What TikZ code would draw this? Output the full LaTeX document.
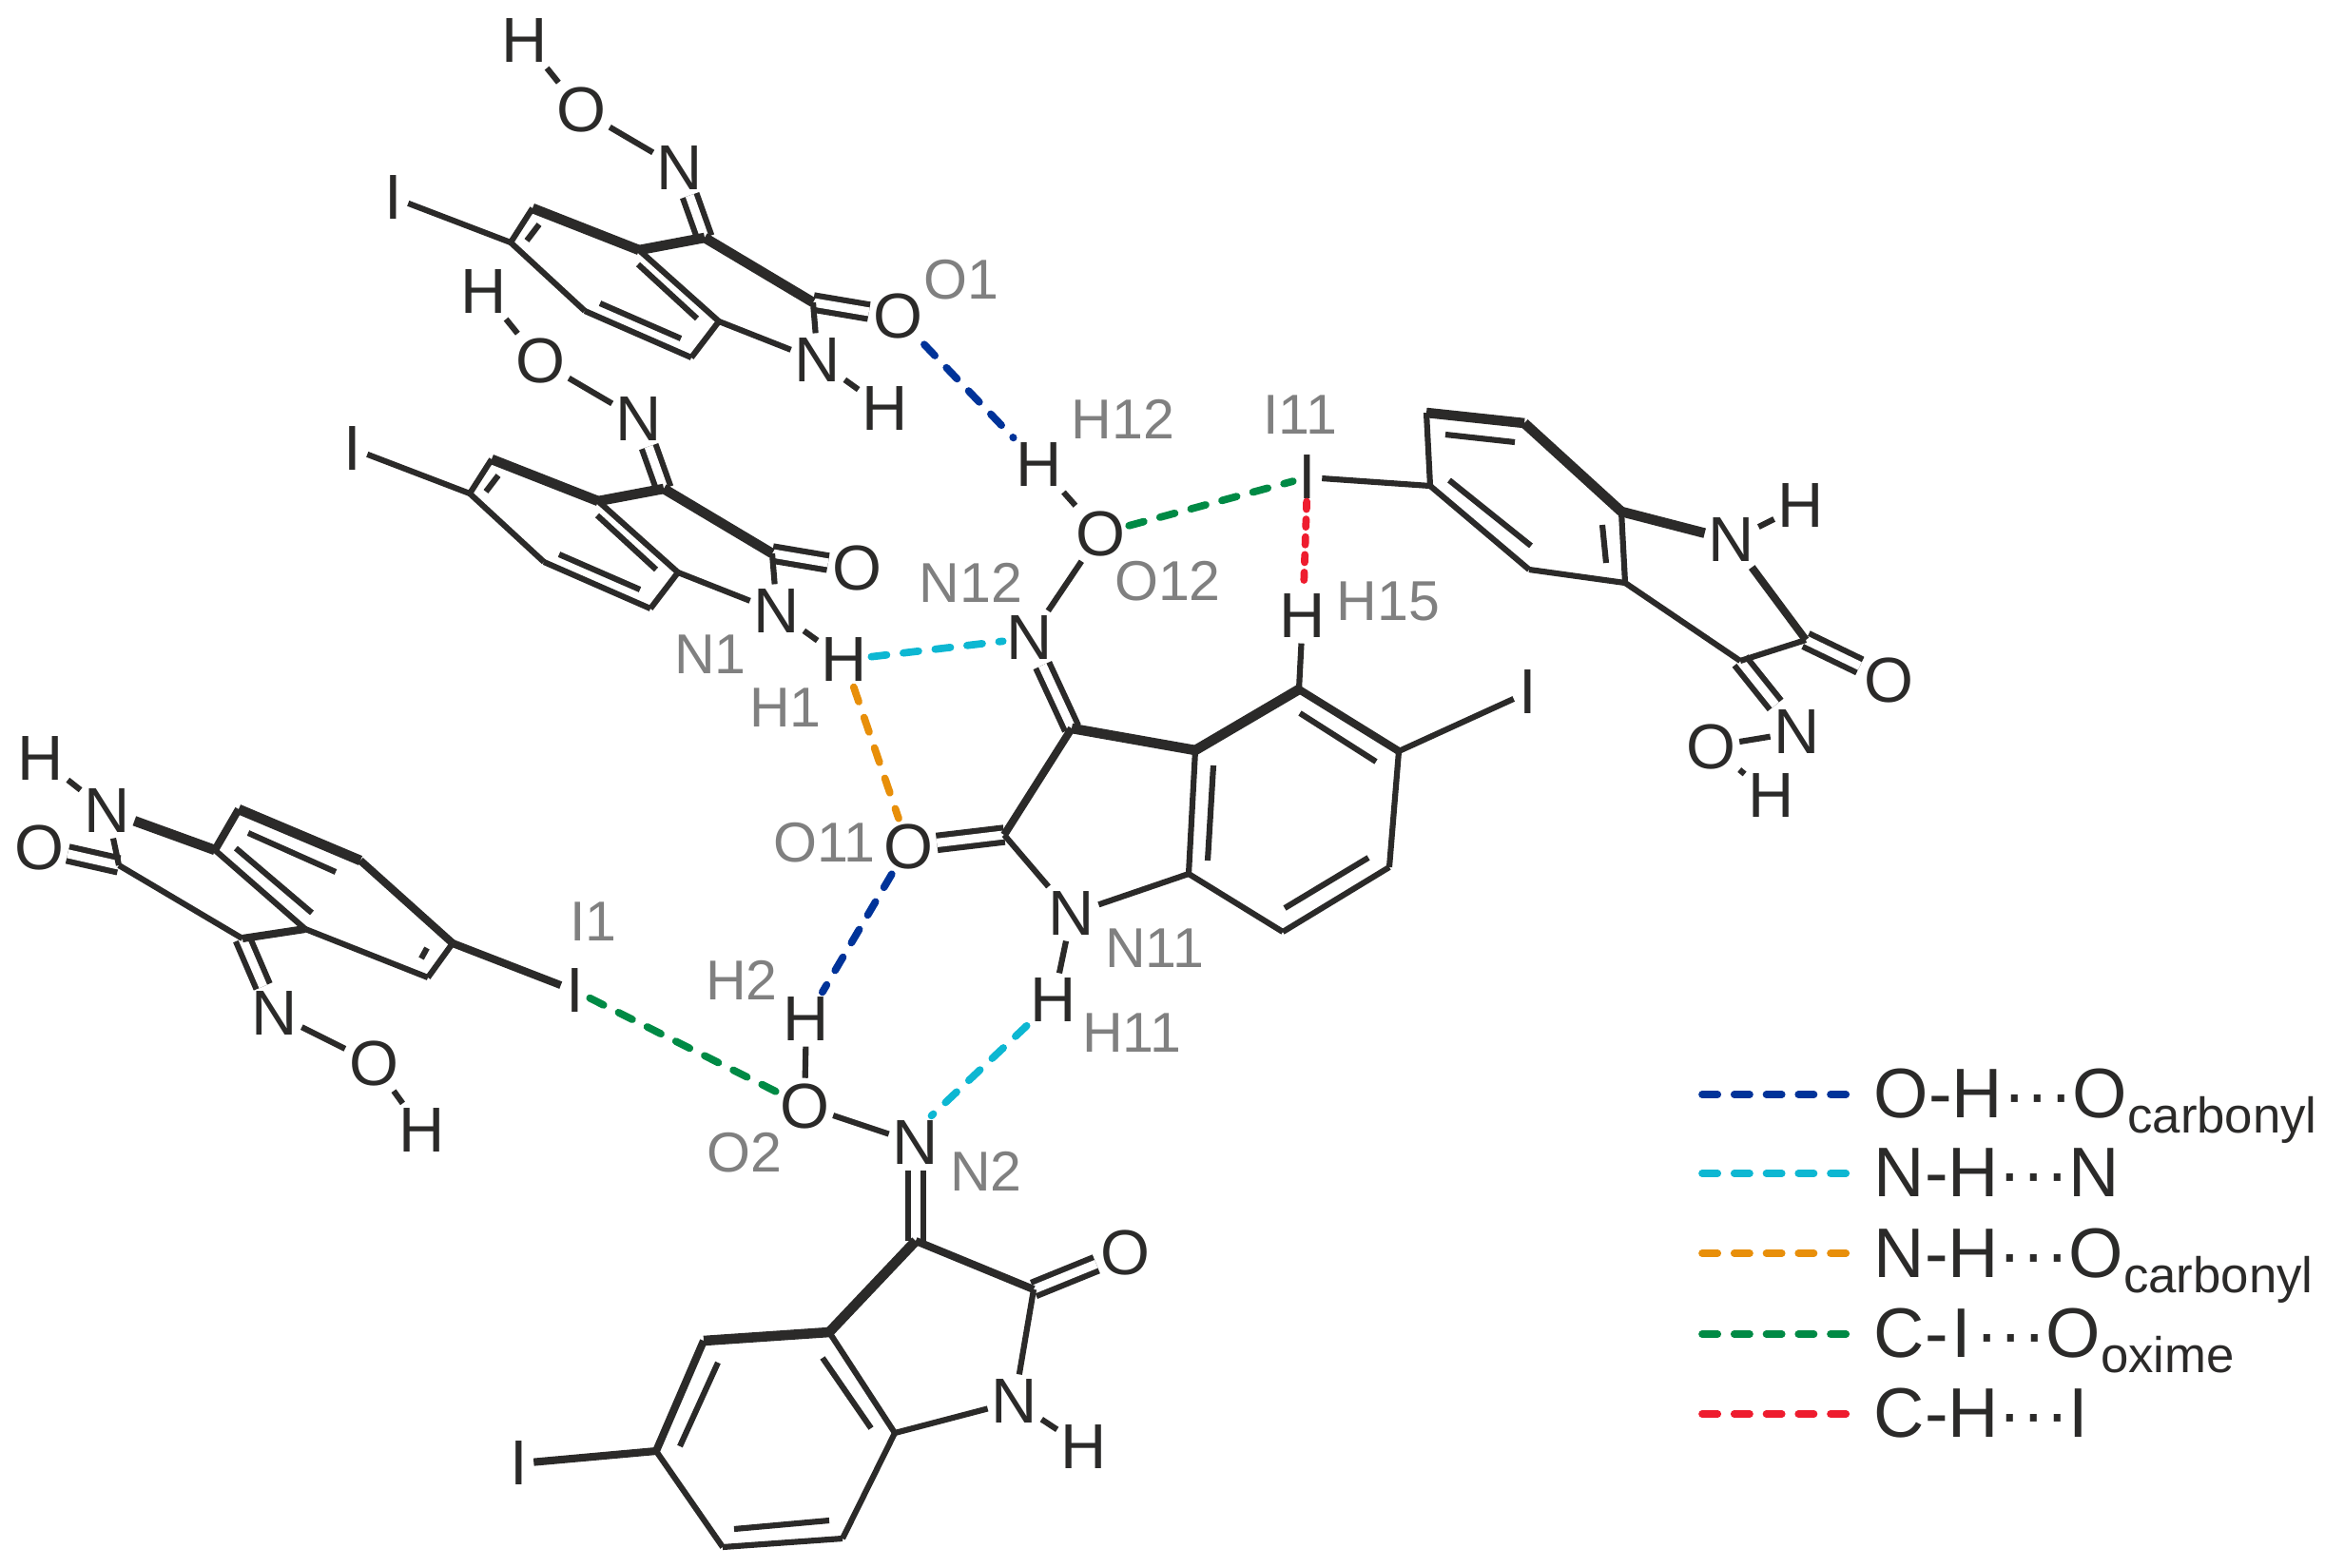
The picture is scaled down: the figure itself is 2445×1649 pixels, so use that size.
\documentclass[tikz,border=0pt]{standalone}
\usepackage{fontspec}
\setmainfont{Liberation Sans}
\usepackage{tikz}
\definecolor{ink}{HTML}{2B2A29}
\definecolor{tagGray}{HTML}{808080}
\definecolor{hbBlue}{HTML}{003399}
\definecolor{hbCyan}{HTML}{0DB7D2}
\definecolor{hbOrange}{HTML}{E88F0A}
\definecolor{hbGreen}{HTML}{008A45}
\definecolor{hbRed}{HTML}{EE1C2E}
\tikzstyle{atom} = [rectangle, inner xsep=1pt, inner ysep=1.4pt, text=ink, font=\fontsize{19}{22}\selectfont]
\tikzstyle{iodine} = [atom, inner xsep=1.5pt, inner ysep=0.5pt]
\tikzstyle{atomtag} = [text=tagGray, inner sep=0pt, font=\fontsize{16.8}{20}\selectfont]
\tikzstyle{legend} = [anchor=base west, inner sep=0pt, text=ink, font=\fontsize{21}{24}\selectfont]
\tikzstyle{bond} = [draw=ink, line width=1.75pt, line join=round]
\tikzstyle{midbond} = [draw=ink, line width=2.3pt, line join=round]
\tikzstyle{thickbond} = [draw=ink, line width=3pt, line join=round]
\tikzstyle{dbond} = [bond, double, double distance=2.6pt]
\tikzstyle{hbond} = [line width=2.2pt, line cap=round, dash pattern=on 4.6pt off 5pt]
\tikzstyle{OHO} = [hbond, draw=hbBlue]
\tikzstyle{NHN} = [hbond, draw=hbCyan]
\tikzstyle{NHO} = [hbond, draw=hbOrange]
\tikzstyle{CIO} = [hbond, draw=hbGreen]
\tikzstyle{CHI} = [hbond, draw=hbRed]
\newcommand{\lowtext}[1]{\raisebox{-4.8pt}{\fontsize{15}{15}\selectfont #1}}

\begin{document}
\begin{tikzpicture}[x=0.01cm,y=-0.01cm]
\useasboundingbox (0,0) rectangle (2445,1649);

% top molecule
\coordinate (Ca2) at (855,318); \coordinate (Ca3) at (741,250);
\coordinate (Ca4) at (672,263); \coordinate (Ca5) at (560,219);
\coordinate (Ca6) at (537,255); \coordinate (Ca7) at (615,327);
\coordinate (Ca8) at (727,376); \coordinate (Ca9) at (756,338);
\coordinate (ia1) at (567,236); \coordinate (ia2) at (554,253);
\coordinate (ia3) at (671,278); \coordinate (ia4) at (733,335);
\coordinate (ia5) at (631,319); \coordinate (ia6) at (716,356);
\node (Ia)[iodine] at (414,208) {I};
\node (Na)[atom] at (860,379) {N};
\node (Ha)[atom] at (931,430) {H};
\node (Oa)[atom] at (944,333) {O};
\node (Nna)[atom] at (715,177) {N};
\node (Ona)[atom] at (611,116) {O};
\node (Hoa)[atom] at (552,43) {H};
\draw [dbond] (Ca3) -- (Nna);
\draw [dbond] (Ca2) -- (Oa);
\draw [bond] (Hoa) -- (Ona);
\draw [bond] (Ona) -- (Nna);
\draw [bond] (Ia) -- (Ca6);
\draw [bond] (Ca6) -- (Ca5);
\draw [thickbond] (Ca5) -- (Ca4);
\draw [thickbond] (Ca4) -- (Ca3);
\draw [thickbond] (Ca3) -- (Ca2);
\draw [bond] (Ca4) -- (Ca9);
\draw [bond] (Ca9) -- (Ca8);
\draw [bond] (Ca8) -- (Ca7);
\draw [bond] (Ca7) -- (Ca6);
\draw [bond] (Ca9) -- (Na);
\draw [bond] (Ca2) -- (Na);
\draw [bond] (Na) -- (Ha);
\draw [bond] (ia1) -- (ia2);
\draw [bond] (ia3) -- (ia4);
\draw [bond] (ia5) -- (ia6);

% second molecule
\coordinate (Cb2) at (812,582); \coordinate (Cb3) at (698,514);
\coordinate (Cb4) at (629,527); \coordinate (Cb5) at (517,483);
\coordinate (Cb6) at (494,519); \coordinate (Cb7) at (572,591);
\coordinate (Cb8) at (684,640); \coordinate (Cb9) at (713,602);
\coordinate (ib1) at (524,500); \coordinate (ib2) at (511,517);
\coordinate (ib3) at (628,542); \coordinate (ib4) at (690,599);
\coordinate (ib5) at (588,583); \coordinate (ib6) at (673,620);
\node (Ib)[iodine] at (371,472) {I};
\node (Nb)[atom] at (817,643) {N};
\node (Hb)[atom] at (888,694) {H};
\node (Ob)[atom] at (901,597) {O};
\node (Nnb)[atom] at (672,441) {N};
\node (Onb)[atom] at (568,380) {O};
\node (Hob)[atom] at (509,307) {H};
\draw [dbond] (Cb3) -- (Nnb);
\draw [dbond] (Cb2) -- (Ob);
\draw [bond] (Hob) -- (Onb);
\draw [bond] (Onb) -- (Nnb);
\draw [bond] (Ib) -- (Cb6);
\draw [bond] (Cb6) -- (Cb5);
\draw [thickbond] (Cb5) -- (Cb4);
\draw [thickbond] (Cb4) -- (Cb3);
\draw [thickbond] (Cb3) -- (Cb2);
\draw [bond] (Cb4) -- (Cb9);
\draw [bond] (Cb9) -- (Cb8);
\draw [bond] (Cb8) -- (Cb7);
\draw [bond] (Cb7) -- (Cb6);
\draw [bond] (Cb9) -- (Nb);
\draw [bond] (Cb2) -- (Nb);
\draw [bond] (Nb) -- (Hb);
\draw [bond] (ib1) -- (ib2);
\draw [bond] (ib3) -- (ib4);
\draw [bond] (ib5) -- (ib6);

% central molecule
\coordinate (Cc2) at (1056,878); \coordinate (Cc3) at (1127,766);
\coordinate (Cc4) at (1257,789); \coordinate (Cc5) at (1366,725);
\coordinate (Cc6) at (1471,790); \coordinate (Cc7) at (1461,912);
\coordinate (Cc8) at (1349,980); \coordinate (Cc9) at (1250,919);
\coordinate (ic1) at (1276,805); \coordinate (ic2) at (1270,905);
\coordinate (ic3) at (1367,750); \coordinate (ic4) at (1447,801);
\coordinate (ic5) at (1439,902); \coordinate (ic6) at (1351,955);
\node (Ic)[iodine] at (1607,728) {I};
\node (Hc5)[atom] at (1370,648) {H};
\node (Nc)[atom] at (1127,961) {N};
\node (Hc)[atom] at (1108,1052) {H};
\node (Oc)[atom] at (955,890) {O};
\node (Nnc)[atom] at (1083,671) {N};
\node (Onc)[atom] at (1157,561) {O};
\node (Hoc)[atom] at (1093,489) {H};
\draw [dbond] (Cc3) -- (Nnc);
\draw [dbond] (Cc2) -- (Oc);
\draw [bond] (Hoc) -- (Onc);
\draw [bond] (Onc) -- (Nnc);
\draw [midbond] (Cc2) -- (Cc3);
\draw [thickbond] (Cc3) -- (Cc4);
\draw [thickbond] (Cc4) -- (Cc5);
\draw [midbond] (Cc5) -- (Cc6);
\draw [bond] (Cc6) -- (Cc7);
\draw [bond] (Cc7) -- (Cc8);
\draw [bond] (Cc8) -- (Cc9);
\draw [bond] (Cc9) -- (Cc4);
\draw [bond] (Cc6) -- (Ic);
\draw [bond] (Cc5) -- (Hc5);
\draw [bond] (Cc2) -- (Nc);
\draw [bond] (Cc9) -- (Nc);
\draw [bond] (Nc) -- (Hc);
\draw [bond] (ic1) -- (ic2);
\draw [bond] (ic3) -- (ic4);
\draw [bond] (ic5) -- (ic6);

% right molecule
\coordinate (Cd2) at (1899,673); \coordinate (Cd3) at (1830,695);
\coordinate (Cd4) at (1709,613); \coordinate (Cd5) at (1608,599);
\coordinate (Cd6) at (1504,511); \coordinate (Cd7) at (1500,434);
\coordinate (Cd8) at (1603,445); \coordinate (Cd9) at (1705,538);
\coordinate (id1) at (1520,457); \coordinate (id2) at (1593,465);
\coordinate (id3) at (1524,505); \coordinate (id4) at (1610,574);
\coordinate (id5) at (1685,552); \coordinate (id6) at (1689,592);
\node (Id)[iodine] at (1375,502) {I};
\node (Nd)[atom] at (1821,568) {N};
\node (Hd)[atom] at (1894,532) {H};
\node (Od)[atom] at (1986,715) {O};
\node (Nnd)[atom] at (1890,770) {N};
\node (Ond)[atom] at (1799,785) {O};
\node (Hod)[atom] at (1863,837) {H};
\draw [dbond] (Cd3) -- (Nnd);
\draw [dbond] (Cd2) -- (Od);
\draw [bond] (Nnd) -- (Ond);
\draw [bond] (Ond) -- (Hod);
\draw [bond] (Id) -- (Cd6);
\draw [bond] (Cd6) -- (Cd7);
\draw [thickbond] (Cd7) -- (Cd8);
\draw [thickbond] (Cd8) -- (Cd9);
\draw [bond] (Cd9) -- (Cd4);
\draw [bond] (Cd4) -- (Cd5);
\draw [bond] (Cd5) -- (Cd6);
\draw [bond] (Cd4) -- (Cd3);
\draw [bond] (Cd3) -- (Cd2);
\draw [thickbond] (Cd9) -- (Nd);
\draw [midbond] (Nd) -- (Cd2);
\draw [bond] (Nd) -- (Hd);
\draw [bond] (id1) -- (id2);
\draw [bond] (id3) -- (id4);
\draw [bond] (id5) -- (id6);

% left molecule
\coordinate (Ce2) at (125,910); \coordinate (Ce3) at (255,987);
\coordinate (Ce4) at (321,977); \coordinate (Ce5) at (450,1028);
\coordinate (Ce6) at (476,992); \coordinate (Ce7) at (379,905);
\coordinate (Ce8) at (251,851); \coordinate (Ce9) at (226,894);
\coordinate (ie1) at (261,876); \coordinate (ie2) at (353,917);
\coordinate (ie3) at (248,892); \coordinate (ie4) at (328,960);
\coordinate (ie5) at (449,997); \coordinate (ie6) at (443,1008);
\node (Ie)[iodine] at (605,1042) {I};
\node (Ne)[atom] at (113,853) {N};
\node (He)[atom] at (43,798) {H};
\node (Oe)[atom] at (41,891) {O};
\node (Nne)[atom] at (289,1066) {N};
\node (One)[atom] at (393,1118) {O};
\node (Hoe)[atom] at (444,1189) {H};
\draw [dbond] (Ce3) -- (Nne);
\draw [dbond] (Ce2) -- (Oe);
\draw [bond] (Nne) -- (One);
\draw [bond] (One) -- (Hoe);
\draw [midbond] (Ce6) -- (Ie);
\draw [midbond] (Ce6) -- (Ce7);
\draw [thickbond] (Ce7) -- (Ce8);
\draw [midbond] (Ce8) -- (Ce9);
\draw [bond] (Ce9) -- (Ce4);
\draw [bond] (Ce4) -- (Ce5);
\draw [bond] (Ce5) -- (Ce6);
\draw [midbond] (Ce4) -- (Ce3);
\draw [bond] (Ce3) -- (Ce2);
\draw [thickbond] (Ce9) -- (Ne);
\draw [bond] (Ne) -- (Ce2);
\draw [bond] (Ne) -- (He);
\draw [bond] (ie1) -- (ie2);
\draw [bond] (ie3) -- (ie4);
\draw [bond] (ie5) -- (ie6);

% bottom molecule
\coordinate (Cf2) at (1087,1356); \coordinate (Cf3) at (963,1305);
\coordinate (Cf4) at (872,1401); \coordinate (Cf5) at (740,1410);
\coordinate (Cf6) at (690,1526); \coordinate (Cf7) at (760,1627);
\coordinate (Cf8) at (886,1618); \coordinate (Cf9) at (941,1507);
\coordinate (if1) at (755,1433); \coordinate (if2) at (715,1521);
\coordinate (if3) at (865,1428); \coordinate (if4) at (916,1502);
\coordinate (if5) at (772,1608); \coordinate (if6) at (872,1599);
\node (If)[iodine] at (546,1539) {I};
\node (Nf)[atom] at (1067,1474) {N};
\node (Hf)[atom] at (1140,1522) {H};
\node (Of)[atom] at (1183,1317) {O};
\node (Nnf)[atom] at (963,1202) {N};
\node (Onf)[atom] at (846,1163) {O};
\node (Hof)[atom] at (848,1072) {H};
\draw [dbond] (Cf3) -- (Nnf);
\draw [dbond] (Cf2) -- (Of);
\draw [bond] (Nnf) -- (Onf);
\draw [bond] (Onf) -- (Hof);
\draw [midbond] (Cf3) -- (Cf2);
\draw [thickbond] (Cf3) -- (Cf4);
\draw [thickbond] (Cf4) -- (Cf5);
\draw [midbond] (Cf5) -- (Cf6);
\draw [midbond] (Cf6) -- (If);
\draw [bond] (Cf6) -- (Cf7);
\draw [bond] (Cf7) -- (Cf8);
\draw [bond] (Cf8) -- (Cf9);
\draw [bond] (Cf9) -- (Cf4);
\draw [bond] (Cf9) -- (Nf);
\draw [bond] (Cf2) -- (Nf);
\draw [bond] (Nf) -- (Hf);
\draw [bond] (if1) -- (if2);
\draw [bond] (if3) -- (if4);
\draw [bond] (if5) -- (if6);

% contacts
\draw [OHO] (Oa) -- (Hoc);
\draw [OHO] (Oc) -- (Hof);
\draw [NHN] (Hb) -- (Nnc);
\draw [NHN] (Hc) -- (Nnf.60);
\draw [NHO] (Hb) -- (Oc);
\draw [CIO] (Onc) -- (Id);
\draw [CIO] (Ie) -- (Onf);
\draw [CHI, dash pattern=on 2.3pt off 3pt] (Id) -- (Hc5);

% gray atom names
\node (tagO1)[atomtag] at (1011,294) {O1};
\node (tagH12)[atomtag] at (1181,441) {H12};
\node (tagI11)[atomtag] at (1367,436) {I11};
\node (tagN12)[atomtag] at (1021,613) {N12};
\node (tagO12)[atomtag] at (1228,611) {O12};
\node (tagH15)[atomtag] at (1460,632) {H15};
\node (tagN1)[atomtag] at (747,688) {N1};
\node (tagH1)[atomtag] at (826,744) {H1};
\node (tagO11)[atomtag] at (867,886) {O11};
\node (tagN11)[atomtag] at (1214,997) {N11};
\node (tagH2)[atomtag] at (780,1031) {H2};
\node (tagH11)[atomtag] at (1190,1086) {H11};
\node (tagI1)[atomtag] at (624,969) {I1};
\node (tagO2)[atomtag] at (783,1212) {O2};
\node (tagN2)[atomtag] at (1037,1232) {N2};

% legend
\coordinate (key1a) at (1790,1151); \coordinate (key1b) at (1945,1151);
\coordinate (key2a) at (1790,1234); \coordinate (key2b) at (1945,1234);
\coordinate (key3a) at (1790,1318); \coordinate (key3b) at (1945,1318);
\coordinate (key4a) at (1790,1403); \coordinate (key4b) at (1945,1403);
\coordinate (key5a) at (1790,1487); \coordinate (key5b) at (1945,1487);
\draw [OHO] (key1a) -- (key1b);
\draw [NHN] (key2a) -- (key2b);
\draw [NHO] (key3a) -- (key3b);
\draw [CIO] (key4a) -- (key4b);
\draw [CHI] (key5a) -- (key5b);
\node (leg1)[legend] at (1970,1175) {O-H···O\lowtext{carbonyl}};
\node (leg2)[legend] at (1970,1258) {N-H···N};
\node (leg3)[legend] at (1970,1343) {N-H···O\lowtext{carbonyl}};
\node (leg4)[legend] at (1970,1427) {C-\kern1pt I\kern1.5pt···O\lowtext{oxime}};
\node (leg5)[legend] at (1970,1511) {C-H···I};

\end{tikzpicture}
\end{document}
